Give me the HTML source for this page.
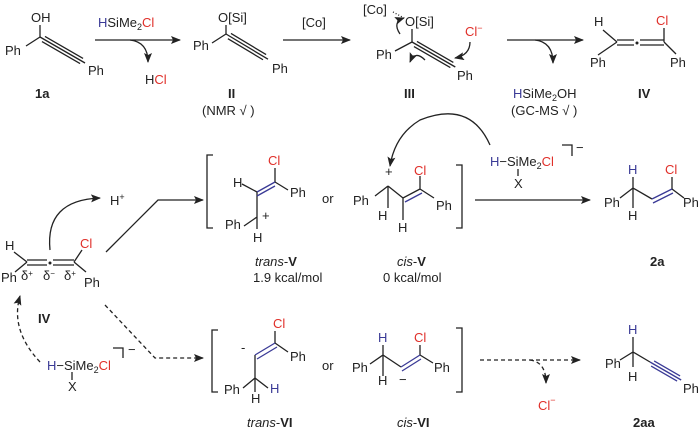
<!DOCTYPE html>
<html><head><meta charset="utf-8"><style>
html,body{margin:0;padding:0;background:#fff}
svg{display:block}
text{font-family:"Liberation Sans",sans-serif;font-size:13px;fill:#222}
.r{fill:#e0302a}.b{fill:#3a3a96}.bd{font-weight:bold}
.l{stroke:#222;stroke-width:1.3;fill:none}
.lb{stroke:#3a3a96;stroke-width:1.3;fill:none}
.d{stroke:#222;stroke-width:1.3;fill:none;stroke-dasharray:4 3}
</style></head><body>
<svg width="700" height="429" viewBox="0 0 700 429">
<defs><marker id="a" markerWidth="10" markerHeight="8" refX="9" refY="4" orient="auto" markerUnits="userSpaceOnUse"><path d="M0,0L10,4L0,8L2,4z" fill="#222"/></marker></defs>

<!-- 1a -->
<text x="31" y="22">OH</text>
<text x="5" y="55">Ph</text>
<path class="l" d="M40,25V37M26,46L40,37"/>
<g transform="translate(40,37) rotate(30)"><path class="l" d="M0,0H52M4,-3H48M4,3H48"/></g>
<text x="88" y="75">Ph</text>
<text x="35" y="98" class="bd">1a</text>
<path class="l" d="M95,40H180" marker-end="url(#a)"/>
<text x="98" y="27"><tspan class="b">H</tspan>SiMe<tspan font-size="9" dy="3">2</tspan><tspan class="r" dy="-3">Cl</tspan></text>
<path class="l" d="M130,40Q148,42 148,62" marker-end="url(#a)"/>
<text x="145" y="84">H<tspan class="r">Cl</tspan></text>

<!-- II -->
<text x="218" y="22">O[Si]</text>
<text x="193" y="50">Ph</text>
<path class="l" d="M226,25V34M212,43L226,34"/>
<g transform="translate(226,34) rotate(31)"><path class="l" d="M0,0H49M4,-3H45M4,3H45"/></g>
<text x="272" y="73">Ph</text>
<text x="228" y="98" class="bd">II</text>
<text x="202" y="115">(NMR √ )</text>
<path class="l" d="M283,40H350" marker-end="url(#a)"/>
<text x="302" y="27">[Co]</text>

<!-- III -->
<text x="363" y="14">[Co]</text>
<path class="l" d="M393,12L404,18" stroke-dasharray="1 2"/>
<text x="405" y="26">O[Si]</text>
<path class="l" d="M412,29V42M395,51L412,42"/>
<g transform="translate(412,42) rotate(30)"><path class="l" d="M0,0H50M4,-3H46M4,3H46"/></g>
<text x="376" y="59">Ph</text>
<text x="457" y="80">Ph</text>
<text x="465" y="36" class="r">Cl<tspan font-size="9" dy="-5">−</tspan></text>
<path class="l" d="M400,34Q392,22 404,18" marker-end="url(#a)"/>
<path class="l" d="M470,42Q470,55 455,58" marker-end="url(#a)"/>
<path class="l" d="M425,60Q415,50 410,62" marker-end="url(#a)"/>
<text x="404" y="98" class="bd">III</text>
<path class="l" d="M507,40H583" marker-end="url(#a)"/>
<path class="l" d="M535,40Q553,42 553,63" marker-end="url(#a)"/>
<text x="513" y="98"><tspan class="b">H</tspan>SiMe<tspan font-size="9" dy="3">2</tspan><tspan dy="-3">OH</tspan></text>
<text x="511" y="115">(GC-MS √ )</text>

<!-- IV top -->
<text x="594" y="26">H</text>
<path class="l" d="M603,30L617,42M617,42L598,55M664,42L676,54M664,42V28"/>
<path class="l" d="M617,40H634M617,45H634M640,40H664M640,45H664"/>
<circle cx="637" cy="43" r="1.5" fill="#222"/>
<text x="656" y="25" class="r">Cl</text>
<text x="590" y="67">Ph</text>
<text x="670" y="67">Ph</text>
<text x="638" y="98" class="bd">IV</text>

<!-- IV left -->
<text x="5" y="250">H</text>
<path class="l" d="M14,252L27,262M27,262L15,272M74,262L86,272M74,262L82,250"/>
<path class="l" d="M27,260H47M27,265H47M53,260H74M53,265H74"/>
<circle cx="50" cy="263" r="1.5" fill="#222"/>
<text x="80" y="248" class="r">Cl</text>
<text x="1" y="282">Ph</text>
<text x="21" y="280" font-size="11">δ<tspan font-size="8" dy="-4">+</tspan></text>
<text x="43" y="280" font-size="11">δ<tspan font-size="8" dy="-4">−</tspan></text>
<text x="64" y="280" font-size="11">δ<tspan font-size="8" dy="-4">+</tspan></text>
<text x="84" y="287">Ph</text>
<text x="38" y="323" class="bd">IV</text>
<path class="l" d="M50,250Q45,200 100,198" marker-end="url(#a)"/>
<text x="110" y="205">H<tspan font-size="9" dy="-5">+</tspan></text>
<path class="l" d="M106,252L158,200H203" marker-end="url(#a)"/>

<!-- trans-V -->
<path class="l" d="M213,155H207V228H213"/>
<text x="268" y="165" class="r">Cl</text>
<text x="233" y="187">H</text>
<path class="l" d="M275,168V182M242,184L257,192M275,182L288,190M257,192V217M257,217L244,226M257,217V229"/>
<path class="lb" d="M257,192L275,182M257,196L275,186"/>
<text x="290" y="197">Ph</text>
<text x="225" y="229">Ph</text>
<text x="253" y="242">H</text>
<text x="262" y="220" font-size="10">+</text>
<text x="322" y="203">or</text>
<text x="255" y="266"><tspan font-style="italic">trans</tspan>-<tspan class="bd">V</tspan></text>
<text x="253" y="282">1.9 kcal/mol</text>

<!-- cis-V -->
<text x="385" y="176" font-size="10">+</text>
<path class="l" d="M388,186L403,198L420,189M375,196L388,186M388,186V208M403,198V220M420,189V176M420,189L434,198"/>
<path class="lb" d="M405,202L422,193"/>
<text x="414" y="175" class="r">Cl</text>
<text x="353" y="205">Ph</text>
<text x="378" y="220">H</text>
<text x="398" y="232">H</text>
<text x="436" y="210">Ph</text>
<path class="l" d="M456,165H462V228H456"/>
<text x="397" y="266"><tspan font-style="italic">cis</tspan>-<tspan class="bd">V</tspan></text>
<text x="383" y="282">0 kcal/mol</text>
<path class="l" d="M490,145Q470,100 420,120Q395,135 390,166" marker-end="url(#a)"/>
<text x="490" y="166"><tspan class="b">H</tspan>−SiMe<tspan font-size="9" dy="3">2</tspan><tspan class="r" dy="-3">Cl</tspan></text>
<path class="l" d="M518,169V176"/>
<text x="514" y="188">X</text>
<path class="l" d="M562,145H572V156"/>
<text x="576" y="152" font-size="10">−</text>
<path class="l" d="M475,200H590" marker-end="url(#a)"/>

<!-- 2a -->
<text x="628" y="174" class="b">H</text>
<text x="665" y="174" class="r">Cl</text>
<path class="l" d="M633,177V208M620,198L633,188L652,199M672,189V177M672,189L684,198"/>
<path class="lb" d="M652,199L672,189M653,203L673,193"/>
<text x="604" y="207">Ph</text>
<text x="628" y="220">H</text>
<text x="683" y="207">Ph</text>
<text x="650" y="266" class="bd">2a</text>

<!-- bottom arrows -->
<path class="d" d="M105,305L155,358H203" marker-end="url(#a)"/>
<path class="d" d="M40,362Q10,330 20,296" marker-end="url(#a)"/>
<text x="47" y="370"><tspan class="b">H</tspan>−SiMe<tspan font-size="9" dy="3">2</tspan><tspan class="r" dy="-3">Cl</tspan></text>
<path class="l" d="M72,372V380"/>
<text x="68" y="391">X</text>
<path class="l" d="M113,348H123V358"/>
<text x="128" y="354" font-size="10">−</text>

<!-- trans-VI -->
<path class="l" d="M218,330H212V392H218"/>
<text x="273" y="328" class="r">Cl</text>
<text x="241" y="352" font-size="11">-</text>
<path class="l" d="M275,331V343M275,343L288,352M255,355V378M255,378L243,388M255,378L268,388M255,378V392"/>
<path class="lb" d="M255,355L275,343M257,359L277,347"/>
<text x="290" y="361">Ph</text>
<text x="224" y="394">Ph</text>
<text x="270" y="393" class="b">H</text>
<text x="251" y="403">H</text>
<text x="322" y="370">or</text>
<text x="247" y="427"><tspan font-style="italic">trans</tspan>-<tspan class="bd">VI</tspan></text>

<!-- cis-VI -->
<text x="378" y="342" class="b">H</text>
<text x="414" y="342" class="r">Cl</text>
<path class="l" d="M383,345V376M370,364L383,355L401,367M420,355V345M420,355L433,363"/>
<path class="lb" d="M401,367L420,355M402,371L421,359"/>
<text x="352" y="372">Ph</text>
<text x="378" y="385">H</text>
<text x="399" y="384" font-size="11">−</text>
<text x="434" y="372">Ph</text>
<path class="l" d="M456,328H462V392H456"/>
<text x="397" y="427"><tspan font-style="italic">cis</tspan>-<tspan class="bd">VI</tspan></text>
<path class="d" d="M480,360H580" marker-end="url(#a)"/>
<path class="d" d="M530,360Q546,362 546,383" marker-end="url(#a)"/>
<text x="538" y="410" class="r">Cl<tspan font-size="9" dy="-7">−</tspan></text>

<!-- 2aa -->
<text x="628" y="334" class="b">H</text>
<path class="l" d="M633,337V367M620,360L633,352L650,362"/>
<g transform="translate(650,362) rotate(30)"><path class="lb" d="M0,0H36M3,-3H33M3,3H33"/></g>
<text x="605" y="368">Ph</text>
<text x="628" y="381">H</text>
<text x="683" y="393">Ph</text>
<text x="633" y="427" class="bd">2aa</text>
</svg>
</body></html>
